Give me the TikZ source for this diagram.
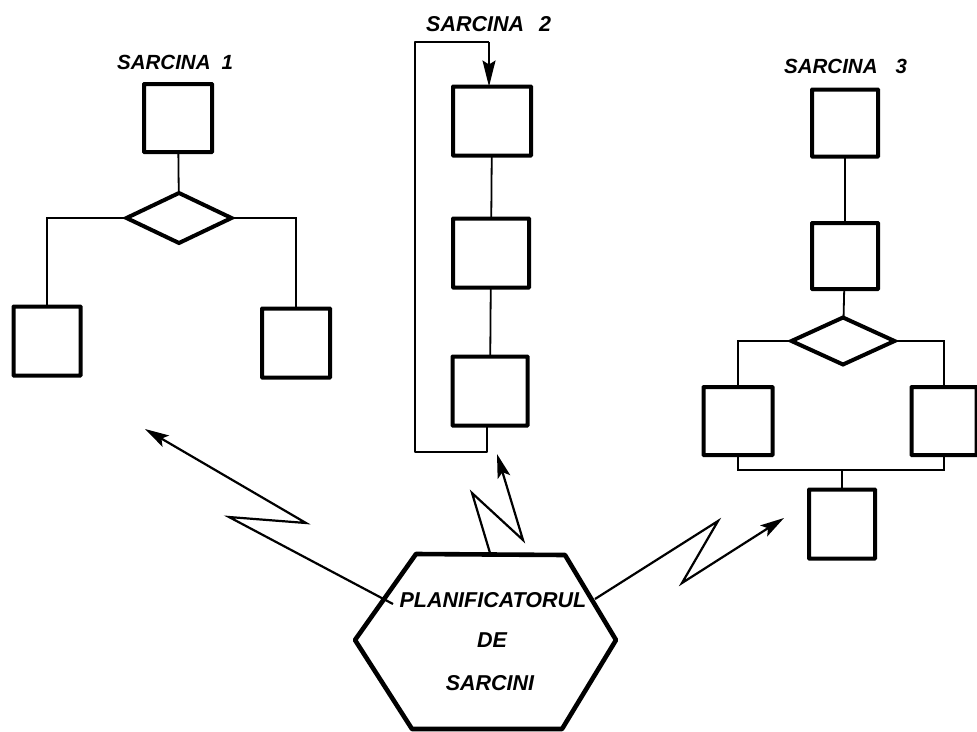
\documentclass[tikz,border=0pt]{standalone}
\usepackage{fontspec}
\setmainfont{Liberation Sans}
\usetikzlibrary{shapes.geometric,arrows.meta}
\tikzset{
  taskbox/.style={draw,line width=4pt,rounded corners=0.5pt,inner sep=0pt,outer sep=0pt},
  choice/.style={draw,diamond,line width=4pt,inner sep=0pt,outer sep=0pt,aspect=2.1,minimum width=105pt,minimum height=50pt},
  wire/.style={line width=1.8pt},
  bolt/.style={line width=2.2pt,line join=miter,-{Stealth[length=24pt,width=13pt,inset=5pt]}},
  hexa/.style={draw,line width=4.6pt,line join=round},
  lab/.style={font=\fontsize{20.5}{22}\selectfont\bfseries\itshape,inner sep=0pt},
  biglab/.style={font=\fontsize{21.5}{23}\selectfont\bfseries\itshape,inner sep=0pt},
}
\begin{document}
\begin{tikzpicture}[x=1pt,y=-1pt]
\useasboundingbox (0,0) rectangle (977,731);
\fill[white] (0,0) rectangle (977,731);
% task 1
\node[lab,anchor=west] (t1) at (117,62) {SARCINA\hspace{11pt}1};
\node[taskbox,minimum width=68pt,minimum height=68pt] (a1) at (178,118) {};
\node[choice] (a2) at (179,218) {};
\node[taskbox,minimum width=67pt,minimum height=69pt] (a3) at (47,341) {};
\node[taskbox,minimum width=68pt,minimum height=69pt] (a4) at (296,343) {};
\draw[wire] (a1) -- (a2);
\draw[wire] (a2.west) -| (a3.north);
\draw[wire] (a2.east) -| (a4.north);
% task 2
\node[biglab,anchor=west] (t2) at (426,24) {SARCINA\hspace{15pt}2};
\node[taskbox,minimum width=78pt,minimum height=69pt] (b1) at (492,121) {};
\node[taskbox,minimum width=76pt,minimum height=69pt] (b2) at (491,253) {};
\node[taskbox,minimum width=75pt,minimum height=69pt] (b3) at (490,391) {};
\draw[wire] (b1) -- (b2);
\draw[wire] (b2) -- (b3);
\coordinate (f1) at (487,452);
\coordinate (f2) at (415,452);
\coordinate (f3) at (415,42);
\coordinate (f4) at (489,42);
\draw[wire,line join=round] (b3.south -| f1) -- (f1) -- (f2) -- (f3) -- (f4);
\draw[wire,-{Stealth[length=26pt,width=13pt,inset=4pt]}] (f4) -- (f4 |- b1.north);
% task 3
\node[lab,anchor=west] (t3) at (784,66) {SARCINA\hspace{18pt}3};
\node[taskbox,minimum width=66pt,minimum height=67pt] (c1) at (845,123) {};
\node[taskbox,minimum width=66pt,minimum height=66pt] (c2) at (845,256) {};
\node[choice,minimum width=103pt,minimum height=47pt,aspect=2.2] (c3) at (843,341) {};
\node[taskbox,minimum width=69pt,minimum height=68pt] (c4) at (738,421) {};
\node[taskbox,minimum width=65pt,minimum height=68pt] (c5) at (944,421) {};
\node[taskbox,minimum width=66pt,minimum height=69pt] (c6) at (842,524) {};
\coordinate (j) at (842,470);
\draw[wire] (c1) -- (c2);
\draw[wire] (c2) -- (c3);
\draw[wire] (c3.west) -| (c4.north);
\draw[wire] (c3.east) -| (c5.north);
\draw[wire] (c4.south) |- (j) -| (c5.south);
\draw[wire] (j) -- (c6.north);
% scheduler
\coordinate (h1) at (355,640);
\coordinate (h2) at (416,554);
\coordinate (h3) at (565,555);
\coordinate (h4) at (616,640);
\coordinate (h5) at (562,729);
\coordinate (h6) at (412,729);
\draw[hexa] (h1) -- (h2) -- (h3) -- (h4) -- (h5) -- (h6) -- cycle;
\node[biglab] (p1) at (493,600) {PLANIFICATORUL};
\node[biglab] (p2) at (492,640) {DE};
\node[biglab] (p3) at (490,683) {SARCINI};
% bolts
\coordinate (l0) at (393,604);
\coordinate (l1) at (229,517);
\coordinate (l2) at (306,523);
\coordinate (l3) at (145,429);
\draw[bolt] (l0) -- (l1) -- (l2) -- (l3);
\coordinate (m0) at (490,553);
\coordinate (m1) at (472,493);
\coordinate (m2) at (523,540);
\coordinate (m3) at (497,454);
\draw[bolt] (m0) -- (m1) -- (m2) -- (m3);
\coordinate (r0) at (595,599);
\coordinate (r1) at (718,521);
\coordinate (r2) at (682,583);
\coordinate (r3) at (784,518);
\draw[bolt] (r0) -- (r1) -- (r2) -- (r3);
\end{tikzpicture}
\end{document}
